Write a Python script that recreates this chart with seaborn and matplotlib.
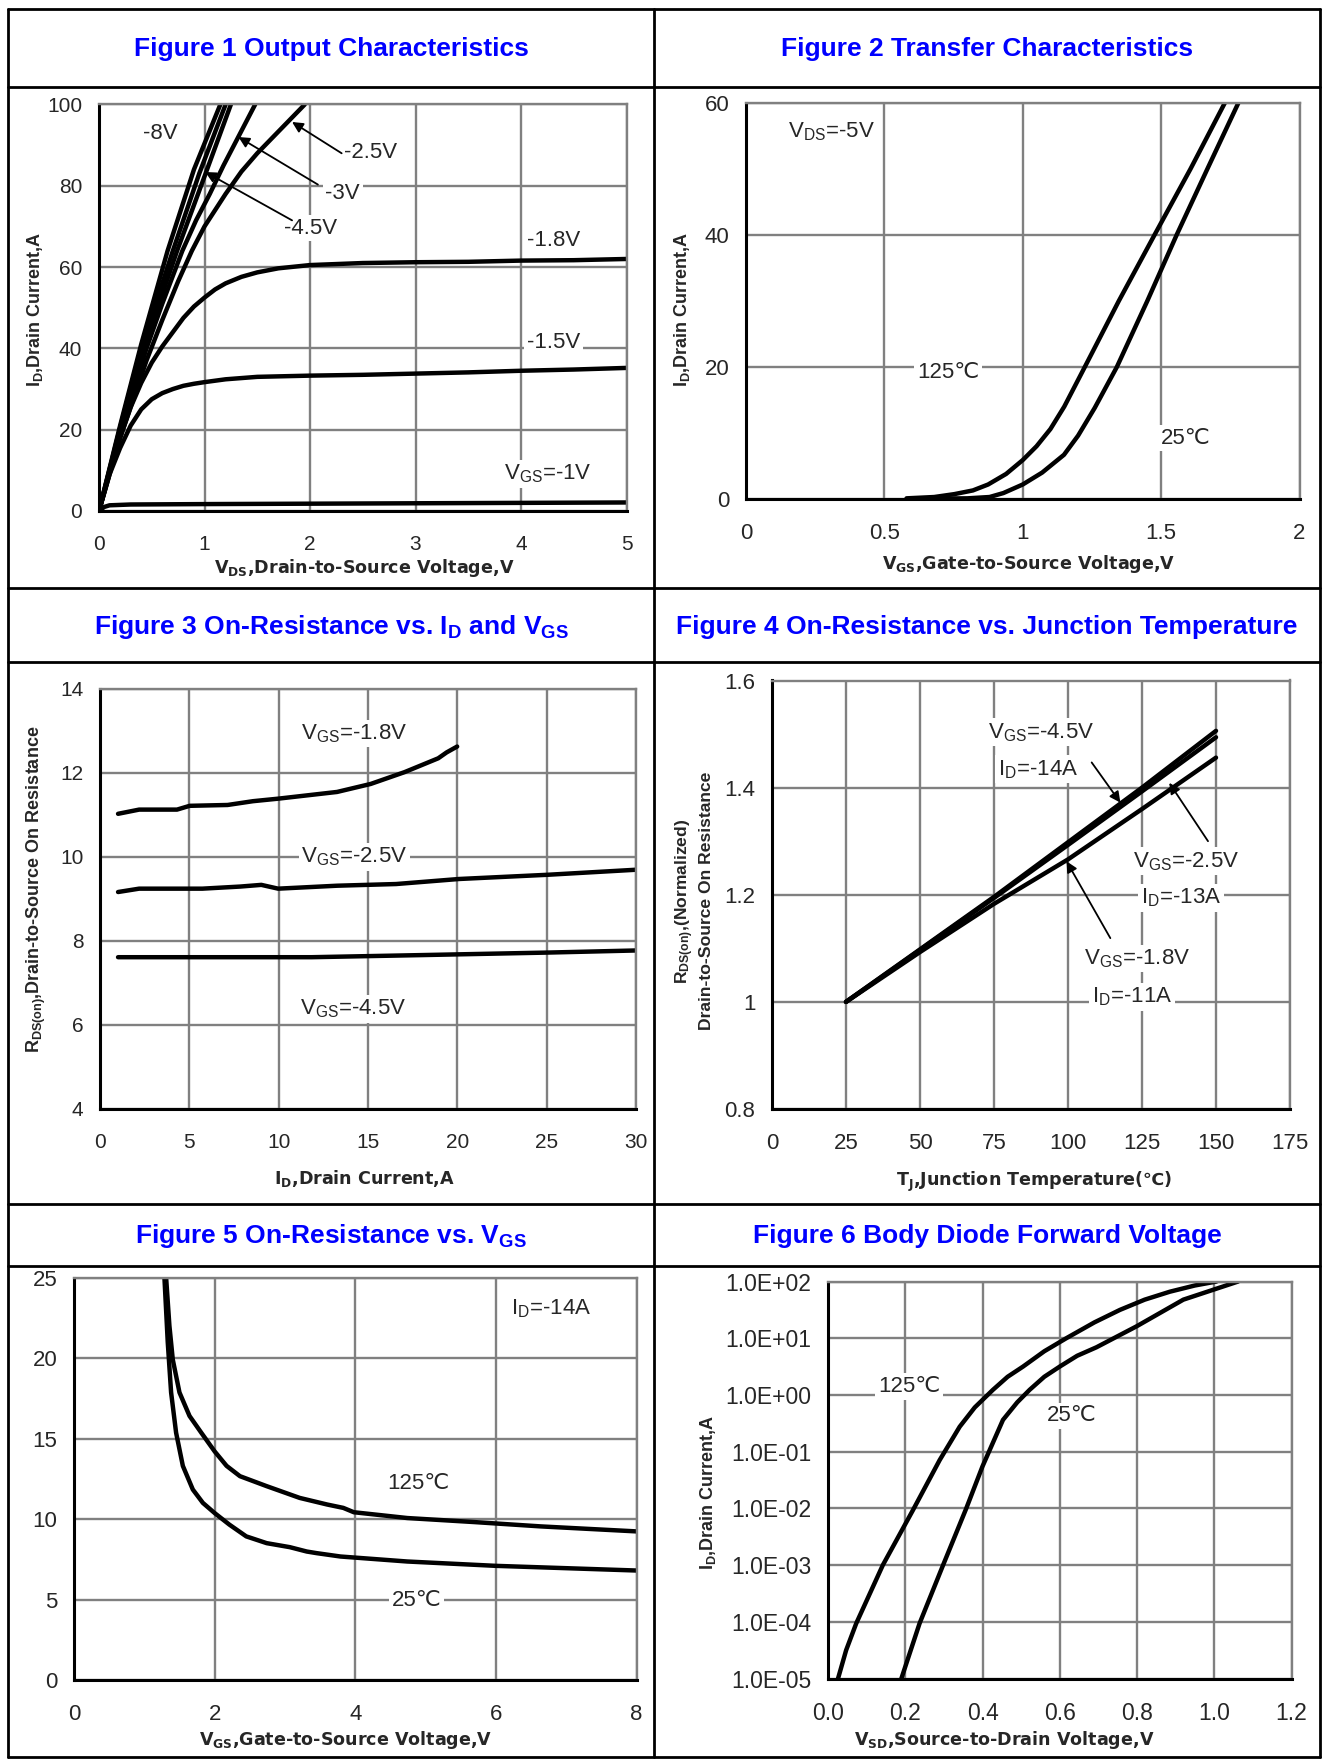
import numpy as np
import pandas as pd
import matplotlib
matplotlib.use('Agg')
import matplotlib.pyplot as plt
from matplotlib.lines import Line2D
from matplotlib.ticker import NullLocator, FixedLocator
import seaborn as sns

sns.set_style('white')
plt.rcParams['font.family'] = ['Liberation Sans', 'DejaVu Sans']
plt.rcParams['mathtext.default'] = 'regular'

# ============================================================
# Data
# ============================================================

# Figure 1 - output characteristics (VDS in V, ID in A)
f1_vds_8v = [0, 0.2, 0.4, 0.65, 0.9, 1.15]
f1_id_8v = [0, 21, 41, 64, 84, 100]
f1_vds_bundle = [0, 0.2, 0.4, 0.7, 0.95, 1.2]
f1_id_bundle = [0, 20.5, 40, 64, 83, 100]
f1_vds_45v = [0, 0.2, 0.45, 0.74, 1.01, 1.25]
f1_id_45v = [0, 20, 42, 64, 83, 100]
f1_vds_3v = [0, 0.2, 0.45, 0.6, 0.79, 0.92, 1.05, 1.18, 1.32, 1.48]
f1_id_3v = [0, 19, 40, 51, 64, 71.5, 78, 85, 92, 100]
f1_vds_25v = [0, 0.2, 0.45, 0.6, 0.75, 0.88, 1.0, 1.2, 1.35, 1.5, 1.65, 1.8, 1.95]
f1_id_25v = [0, 18, 37, 47, 56.5, 64, 70, 78, 83.5, 88, 92, 96, 100]
f1_vds_18v = [0, 0.1, 0.2, 0.3, 0.4, 0.5, 0.6, 0.7, 0.8, 0.9, 1.0, 1.1, 1.2, 1.35, 1.5, 1.7,
              2.0, 2.5, 3, 3.5, 4, 4.5, 5]
f1_id_18v = [0, 9.5, 18, 25.5, 31.5, 36.5, 40.5, 44, 47.5, 50.3, 52.5, 54.5, 56, 57.6, 58.7, 59.7,
             60.5, 61, 61.2, 61.3, 61.6, 61.7, 62]
f1_vds_15v = [0, 0.1, 0.2, 0.3, 0.4, 0.5, 0.6, 0.7, 0.8, 0.9, 1.0, 1.2, 1.5, 2, 2.5, 3, 3.5, 4, 4.5, 5]
f1_id_15v = [0, 9, 15.5, 21, 25, 27.5, 29, 30, 30.8, 31.3, 31.7, 32.4, 33, 33.3, 33.5, 33.8, 34.1,
             34.5, 34.8, 35.2]
f1_vds_1v = [0, 0.05, 0.1, 0.3, 1, 2, 3, 4, 5]
f1_id_1v = [0, 1.0, 1.4, 1.6, 1.7, 1.8, 1.9, 2.0, 2.1]

# Figure 2 - transfer characteristics (VGS in V, ID in A)
f2_vgs_125 = [0.58, 0.68, 0.753, 0.82, 0.875, 0.94, 1.0, 1.05, 1.1, 1.15, 1.218, 1.347, 1.476,
              1.606, 1.73]
f2_id_125 = [0.1, 0.3, 0.74, 1.3, 2.2, 3.8, 5.9, 8.0, 10.6, 14.0, 19.5, 30, 40, 50, 60]
f2_vgs_25 = [0.6, 0.8, 0.88, 0.93, 1.0, 1.07, 1.149, 1.2, 1.26, 1.34, 1.45, 1.556, 1.667, 1.779]
f2_id_25 = [0.05, 0.1, 0.3, 0.9, 2.2, 4.0, 6.7, 9.6, 13.8, 20, 30, 40, 50, 60]

# Figure 3 - RDS(on) vs ID (ID in A, RDS(on) in mOhm)
f3_id_18v = [1.01, 2.19, 4.31, 5.02, 7.14, 8.56, 9.97, 13.27, 15.15, 17.04, 18.93, 19.4, 19.99]
f3_r_18v = [11.02, 11.12, 11.12, 11.21, 11.23, 11.32, 11.38, 11.54, 11.73, 12.01, 12.34, 12.48, 12.62]
f3_id_25v = [1.01, 2.19, 5.73, 7.85, 9.03, 9.97, 13.27, 16.57, 20.1, 25.05, 30]
f3_r_25v = [9.16, 9.24, 9.24, 9.29, 9.33, 9.24, 9.31, 9.35, 9.47, 9.57, 9.69]
f3_id_45v = [1.01, 11.85, 17.98, 25.05, 30]
f3_r_45v = [7.61, 7.61, 7.66, 7.72, 7.77]

# Figure 4 - normalized RDS(on) vs junction temperature
f4_tj = [25, 50, 75, 100, 125, 150]
f4_r_45v = [1.0, 1.098, 1.196, 1.298, 1.40, 1.506]
f4_r_25v = [1.0, 1.097, 1.194, 1.293, 1.393, 1.494]
f4_r_18v = [1.0, 1.093, 1.183, 1.266, 1.36, 1.456]

# Figure 5 - RDS(on) vs VGS at ID=-14A
f5_vgs_125 = [1.31, 1.357, 1.405, 1.5, 1.643, 1.81, 2.0, 2.17, 2.36, 2.74, 3.21, 3.6, 3.83, 3.98,
              4.74, 5.69, 6.64, 8.0]
f5_r_125 = [25, 22.0, 19.9, 17.86, 16.4, 15.36, 14.2, 13.3, 12.66, 12.04, 11.31, 10.9, 10.69, 10.42,
            10.06, 9.81, 9.54, 9.23]
f5_vgs_25 = [1.286, 1.333, 1.381, 1.452, 1.548, 1.69, 1.833, 2.0, 2.21, 2.45, 2.74, 3.07, 3.31,
             3.45, 3.79, 4.74, 6.0, 8.0]
f5_r_25 = [25, 21, 17.86, 15.36, 13.3, 11.83, 11.0, 10.37, 9.65, 8.92, 8.5, 8.25, 7.98, 7.88, 7.67,
           7.36, 7.09, 6.8]

# Figure 6 - body diode forward voltage (VSD in V, log10 of ID in A)
f6_vsd_125 = [0.026, 0.047, 0.073, 0.142, 0.22, 0.289, 0.341, 0.38, 0.427, 0.465, 0.505, 0.56,
              0.617, 0.69, 0.756, 0.82, 0.885, 0.95, 1.006]
f6_logid_125 = [-5, -4.5, -4.03, -3.0, -2.03, -1.15, -0.56, -0.22, 0.09, 0.32, 0.5, 0.77, 1.0, 1.28,
                1.5, 1.68, 1.82, 1.93, 2.0]
f6_vsd_25 = [0.19, 0.237, 0.298, 0.358, 0.40, 0.453, 0.49, 0.522, 0.56, 0.6, 0.645, 0.695, 0.799,
             0.92, 1.062]
f6_logid_25 = [-5, -4.03, -3.0, -2.0, -1.26, -0.44, -0.13, 0.09, 0.32, 0.5, 0.69, 0.84, 1.21, 1.68, 2.0]

f6_tick_labels = ['1.0E-05', '1.0E-04', '1.0E-03', '1.0E-02', '1.0E-01', '1.0E+00', '1.0E+01', '1.0E+02']

titles = [
    'Figure 1 Output Characteristics',
    'Figure 2 Transfer Characteristics',
    'Figure 3 On-Resistance vs. I$_D$ and V$_{GS}$',
    'Figure 4 On-Resistance vs. Junction Temperature',
    'Figure 5 On-Resistance vs. V$_{GS}$',
    'Figure 6 Body Diode Forward Voltage',
]

# ============================================================
# Figure and page layout
# ============================================================

W, H = 1322, 1760
fig = plt.figure(figsize=(W / 100, H / 100), dpi=100)
fig.patch.set_facecolor('white')


def fline(x0, y0, x1, y1, lw=2.0):
    fig.add_artist(Line2D([x0 / W, x1 / W], [1 - y0 / H, 1 - y1 / H],
                          transform=fig.transFigure, color='black', lw=lw))


# table frame
fline(8, 9, 1320, 9)
fline(8, 1757, 1320, 1757)
fline(8, 9, 8, 1757)
fline(1320, 9, 1320, 1757)
fline(654, 9, 654, 1757)
for yy in [87, 588, 662, 1204, 1266]:
    fline(8, yy, 1320, yy)

title_pos = [(331, 49), (987, 49), (331, 627), (987, 627), (331, 1236), (987, 1236)]
for t, (tx, ty) in zip(titles, title_pos):
    fig.text(tx / W, 1 - ty / H, t, ha='center', va='center', color='#0000FF',
             fontsize=19, fontweight='bold')


def make_ax(left, top, right, bottom):
    return fig.add_axes([left / W, 1 - bottom / H, (right - left) / W, (bottom - top) / H])


ax1 = make_ax(99, 104.5, 626.5, 511)
ax2 = make_ax(746, 103, 1299.5, 499)
ax3 = make_ax(100, 688.5, 636, 1109)
ax4 = make_ax(772, 680.5, 1290, 1109)
ax5 = make_ax(74, 1277.5, 636.5, 1680)
ax6 = make_ax(828, 1281.5, 1291.5, 1678.5)


def style_ax(ax, size=15):
    ax.set_facecolor('white')
    ax.grid(True, color='#808080', lw=1.7)
    ax.set_axisbelow(True)
    for s in ['left', 'bottom']:
        ax.spines[s].set_color('black')
        ax.spines[s].set_linewidth(2.2)
    for s in ['top', 'right']:
        ax.spines[s].set_color('#808080')
        ax.spines[s].set_linewidth(1.7)
    ax.tick_params(axis='both', length=0, labelsize=size)
    ax.tick_params(axis='x', pad=17)
    ax.tick_params(axis='y', pad=12)


def curve(ax, xs, ys):
    sns.lineplot(x=xs, y=ys, ax=ax, color='black', linewidth=3.2,
                 sort=False, estimator=None)


def xlab(ax, text, x, y):
    ax.set_xlabel(text, fontsize=12.6, fontweight='bold', family='DejaVu Sans')
    ax.xaxis.set_label_coords(x, y)
    ax.xaxis.label.set_va('center')


def ylab(ax, text, x, y, size=13):
    ax.set_ylabel(text, fontsize=size, fontweight='bold')
    ax.yaxis.set_label_coords(x, y)
    ax.yaxis.label.set_va('center')


def note(ax, x, y, text, size=16):
    ax.text(x, y, text, ha='center', va='center', fontsize=size,
            bbox=dict(facecolor='white', edgecolor='none', pad=2))


def arrow(ax, tail, tip):
    ax.annotate('', xy=tip, xytext=tail,
                arrowprops=dict(arrowstyle='-|>', color='black', lw=1.3,
                                mutation_scale=16, shrinkA=0, shrinkB=0))


# ============================================================
# Figure 1
# ============================================================
for xs, ys in [(f1_vds_8v, f1_id_8v), (f1_vds_bundle, f1_id_bundle), (f1_vds_45v, f1_id_45v),
               (f1_vds_3v, f1_id_3v), (f1_vds_25v, f1_id_25v), (f1_vds_18v, f1_id_18v),
               (f1_vds_15v, f1_id_15v), (f1_vds_1v, f1_id_1v)]:
    curve(ax1, xs, ys)
ax1.set_xlim(0, 5)
ax1.set_ylim(0, 100)
ax1.set_xticks(range(0, 6))
ax1.set_yticks(range(0, 101, 20))
style_ax(ax1)
xlab(ax1, 'V$_{DS}$,Drain-to-Source Voltage,V', 0.502, -0.141)
ylab(ax1, 'I$_D$,Drain Current,A', -0.121, 0.497)
note(ax1, 0.585, 92.8, '-8V')
note(ax1, 2.57, 88.1, '-2.5V')
note(ax1, 2.31, 78.2, '-3V')
note(ax1, 2.01, 69.6, '-4.5V')
note(ax1, 4.31, 66.6, '-1.8V')
note(ax1, 4.31, 41.5, '-1.5V')
note(ax1, 4.25, 9.1, 'V$_{GS}$=-1V')
arrow(ax1, (2.30, 88.0), (1.83, 95.7))
arrow(ax1, (2.075, 80.3), (1.322, 92.0))
arrow(ax1, (1.83, 71.5), (1.007, 83.4))

# ============================================================
# Figure 2
# ============================================================
curve(ax2, f2_vgs_125, f2_id_125)
curve(ax2, f2_vgs_25, f2_id_25)
ax2.set_xlim(0, 2)
ax2.set_ylim(0, 60)
ax2.set_xticks([0, 0.5, 1, 1.5, 2])
ax2.set_xticklabels(['0', '0.5', '1', '1.5', '2'])
ax2.set_yticks(range(0, 61, 20))
style_ax(ax2, 16)
xlab(ax2, 'V$_{GS}$,Gate-to-Source Voltage,V', 0.511, -0.165)
ylab(ax2, 'I$_D$,Drain Current,A', -0.116, 0.48)
note(ax2, 0.31, 55.7, 'V$_{DS}$=-5V')
note(ax2, 0.73, 19.1, '125℃')
note(ax2, 1.59, 9.2, '25℃')

# ============================================================
# Figure 3
# ============================================================
curve(ax3, f3_id_18v, f3_r_18v)
curve(ax3, f3_id_25v, f3_r_25v)
curve(ax3, f3_id_45v, f3_r_45v)
ax3.set_xlim(0, 30)
ax3.set_ylim(4, 14)
ax3.set_xticks(range(0, 31, 5))
ax3.set_yticks(range(4, 15, 2))
style_ax(ax3)
xlab(ax3, 'I$_D$,Drain Current,A', 0.494, -0.166)
ylab(ax3, 'R$_{DS(on)}$,Drain-to-Source On Resistance', -0.119, 0.522)
note(ax3, 14.25, 12.93, 'V$_{GS}$=-1.8V')
note(ax3, 14.25, 9.99, 'V$_{GS}$=-2.5V')
note(ax3, 14.18, 6.38, 'V$_{GS}$=-4.5V')

# ============================================================
# Figure 4
# ============================================================
curve(ax4, f4_tj, f4_r_45v)
curve(ax4, f4_tj, f4_r_25v)
curve(ax4, f4_tj, f4_r_18v)
ax4.set_xlim(0, 175)
ax4.set_ylim(0.8, 1.6)
ax4.set_xticks(range(0, 176, 25))
ax4.set_yticks([0.8, 1.0, 1.2, 1.4, 1.6])
ax4.set_yticklabels(['0.8', '1', '1.2', '1.4', '1.6'])
style_ax(ax4, 16)
xlab(ax4, 'T$_J$,Junction Temperature(℃)', 0.507, -0.171)
ylab(ax4, 'R$_{DS(on)}$,(Normalized)\nDrain-to-Source On Resistance', -0.1515, 0.485, 12.6)
note(ax4, 90.9, 1.503, 'V$_{GS}$=-4.5V')
note(ax4, 89.8, 1.434, 'I$_D$=-14A')
note(ax4, 139.9, 1.2625, 'V$_{GS}$=-2.5V')
note(ax4, 138.2, 1.194, 'I$_D$=-13A')
note(ax4, 123.4, 1.081, 'V$_{GS}$=-1.8V')
note(ax4, 121.7, 1.009, 'I$_D$=-11A')
arrow(ax4, (108, 1.447), (117.7, 1.372))
arrow(ax4, (147.3, 1.30), (134.2, 1.409))
arrow(ax4, (114.3, 1.119), (99.5, 1.2625))

# ============================================================
# Figure 5
# ============================================================
curve(ax5, f5_vgs_125, f5_r_125)
curve(ax5, f5_vgs_25, f5_r_25)
ax5.set_xlim(0, 8)
ax5.set_ylim(0, 25)
ax5.set_xticks(range(0, 9, 2))
ax5.set_yticks(range(0, 26, 5))
style_ax(ax5, 16)
xlab(ax5, 'V$_{GS}$,Gate-to-Source Voltage,V', 0.483, -0.150)
note(ax5, 6.79, 23.05, 'I$_D$=-14A')
note(ax5, 4.9, 12.18, '125℃')
note(ax5, 4.87, 4.94, '25℃')

# ============================================================
# Figure 6
# ============================================================
curve(ax6, f6_vsd_125, [10 ** v for v in f6_logid_125])
curve(ax6, f6_vsd_25, [10 ** v for v in f6_logid_25])
ax6.set_yscale('log')
ax6.set_xlim(0, 1.2)
ax6.set_ylim(1e-5, 1e2)
ax6.set_xticks([0, 0.2, 0.4, 0.6, 0.8, 1.0, 1.2])
ax6.set_xticklabels(['0.0', '0.2', '0.4', '0.6', '0.8', '1.0', '1.2'])
ax6.yaxis.set_major_locator(FixedLocator([10.0 ** e for e in range(-5, 3)]))
ax6.yaxis.set_minor_locator(NullLocator())
ax6.set_yticklabels(f6_tick_labels)
style_ax(ax6, 16.5)
xlab(ax6, 'V$_{SD}$,Source-to-Drain Voltage,V', 0.380, -0.156)
ylab(ax6, 'I$_D$,Drain Current,A', -0.259, 0.469)
note(ax6, 0.21, 1.4, '125℃')
note(ax6, 0.63, 0.43, '25℃')

fig.savefig('out.png', dpi=100)
print('saved out.png')
